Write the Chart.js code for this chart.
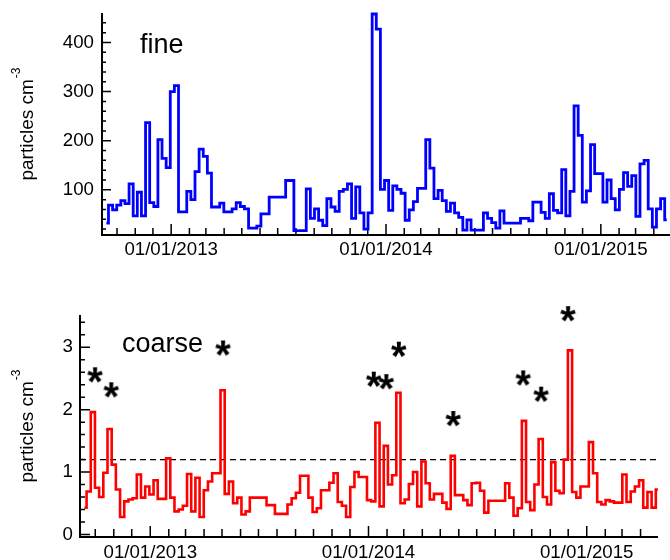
<!DOCTYPE html>
<html>
<head>
<meta charset="utf-8">
<title>Weekly particle number concentrations</title>
<script src="https://cdn.jsdelivr.net/npm/chart.js@4.4.0/dist/chart.umd.min.js"></script>
<style>
  html, body { margin: 0; padding: 0; background: #fff; }
  #wrap { position: relative; width: 670px; height: 560px; overflow: hidden; }
  #fineCanvas { position: absolute; left: 0; top: 0; }
  #coarseCanvas { position: absolute; left: 0; top: 265px; }
</style>
</head>
<body>
<div id="wrap">
  <canvas id="fineCanvas" width="670" height="265"></canvas>
  <canvas id="coarseCanvas" width="670" height="295"></canvas>
</div>
<script>
// Weekly means; x is counted in days from 01/01/2013
const weekStart = -110;
const weekStep = 7;

// fine mode, particles cm-3
const fineValues = [
  32, 69, 59, 69, 78, 72, 112, 47, 95, 47,
  237, 74, 66, 202, 164, 145, 300, 312, 55, 55,
  97, 80, 137, 183, 168, 134, 65, 65, 73, 55,
  55, 61, 74, 66, 61, 22, 22, 26, 51, 51,
  85, 85, 85, 85, 119, 119, 17, 17, 17, 102,
  42, 61, 38, 27, 82, 65, 56, 97, 101, 112,
  42, 106, 53, 20, 53, 458, 427, 101, 119, 58,
  108, 101, 93, 38, 59, 76, 103, 103, 202, 144,
  82, 99, 78, 56, 73, 53, 44, 18, 39, 18,
  18, 18, 53, 42, 33, 22, 57, 32, 32, 32,
  32, 42, 42, 37, 75, 75, 54, 42, 92, 58,
  53, 141, 47, 97, 271, 211, 75, 98, 192, 133,
  133, 75, 120, 82, 59, 101, 135, 107, 129, 46,
  153, 160, 61, 24, 61, 82, 39
];

// coarse mode, particles cm-3
const coarseValues = [
  0.43, 0.69, 1.96, 0.75, 0.60, 0.99, 1.69, 1.12, 0.72, 0.28,
  0.53, 0.56, 0.58, 0.96, 0.59, 0.77, 0.64, 0.87, 0.57, 0.57,
  1.22, 0.59, 0.37, 0.40, 0.46, 0.97, 0.37, 0.91, 0.28, 0.71,
  0.85, 0.98, 0.98, 2.31, 0.65, 0.85, 0.50, 0.59, 0.32, 0.37,
  0.59, 0.59, 0.59, 0.59, 0.47, 0.47, 0.33, 0.33, 0.33, 0.48,
  0.58, 0.67, 0.94, 0.94, 0.59, 0.36, 0.42, 0.71, 0.71, 0.83,
  0.98, 0.52, 0.46, 0.28, 0.76, 1.00, 0.92, 0.92, 0.55, 0.53,
  1.79, 0.45, 1.42, 0.80, 0.95, 2.27, 0.50, 0.56, 0.81, 1.00,
  0.45, 1.17, 0.82, 0.56, 0.65, 0.65, 0.51, 0.41, 1.26, 0.63,
  0.63, 0.55, 0.47, 0.82, 0.83, 0.70, 0.35, 0.54, 0.54, 0.54,
  0.54, 0.82, 0.59, 0.30, 0.42, 1.82, 0.52, 0.39, 0.80, 1.53,
  0.60, 0.48, 1.16, 0.70, 0.66, 1.20, 2.95, 0.68, 0.59, 0.77,
  0.77, 1.48, 0.98, 0.52, 0.48, 0.55, 0.53, 0.51, 0.51, 0.96,
  0.52, 0.69, 0.77, 0.87, 0.43, 0.68, 0.43, 0.72
];

// coarse episodes marked with an asterisk (day, particles cm-3)
const eventDays = [-92, -65, 122, 374, 395, 416, 507, 624, 654, 699];
const eventLevels = [2.55, 2.31, 2.98, 2.48, 2.44, 2.96, 1.85, 2.50, 2.24, 3.53];

const coarseThreshold = 1.2;

// axis labels
const yearTickDays = [0, 365, 730];
const yearTickLabels = ['01/01/2013', '01/01/2014', '01/01/2015'];
const fineYLabels = [100, 200, 300, 400];
const coarseYLabels = [0, 1, 2, 3];

const xMin = -117.5;
const xMax = 847.5;

const FONT = '"Liberation Sans", Arial, Helvetica, sans-serif';
const DAY_MS = 86400000;

// first of every month inside the plotted range
function monthTickDays() {
  const origin = Date.UTC(2013, 0, 1);
  const days = [];
  for (let y = 2012; y <= 2015; y++) {
    for (let m = 0; m < 12; m++) {
      const d = Math.round((Date.UTC(y, m, 1) - origin) / DAY_MS);
      if (d >= xMin && d <= xMax) days.push(d);
    }
  }
  return days;
}

function stepTicks(min, max, step) {
  const out = [];
  const n = Math.floor(max / step + 1e-9);
  for (let i = Math.ceil(min / step - 1e-9); i <= n; i++) {
    out.push(Math.round(i * step * 100) / 100);
  }
  return out;
}

function weekly(values) {
  return values.map((v, i) => ({ x: weekStart + i * weekStep, y: v }));
}

// asterisk glyph rendered once and used as point style
function asteriskMarker() {
  const c = document.createElement('canvas');
  c.width = 26;
  c.height = 26;
  const g = c.getContext('2d');
  g.font = 'bold 40px ' + FONT;
  const m = g.measureText('*');
  const w = m.actualBoundingBoxLeft + m.actualBoundingBoxRight;
  const h = m.actualBoundingBoxAscent + m.actualBoundingBoxDescent;
  g.fillStyle = '#000';
  g.fillText('*', 13 - w / 2 + m.actualBoundingBoxLeft, 13 - h / 2 + m.actualBoundingBoxAscent);
  return c;
}

// inward tick marks, panel name and the rotated unit title
function panelDecor(d) {
  return {
    id: 'panelDecor',
    beforeDatasetsDraw(chart) {
      const ctx = chart.ctx;
      const area = chart.chartArea;
      const xs = chart.scales.x;
      const ys = chart.scales.y;

      ctx.save();
      ctx.strokeStyle = '#000';
      ctx.lineWidth = 1.5;
      ctx.setLineDash([]);
      ctx.beginPath();
      for (const t of xs.ticks) {
        const px = xs.getPixelForValue(t.value);
        const len = yearTickDays.includes(t.value) ? d.xMajor : d.xMinor;
        ctx.moveTo(px, area.bottom);
        ctx.lineTo(px, area.bottom - len);
      }
      for (const t of ys.ticks) {
        const py = ys.getPixelForValue(t.value);
        const len = d.yLabels.includes(t.value) ? d.yMajor : d.yMinor;
        ctx.moveTo(area.left, py);
        ctx.lineTo(area.left + len, py);
      }
      ctx.stroke();

      ctx.fillStyle = '#000';
      ctx.textBaseline = 'alphabetic';
      ctx.textAlign = 'left';
      ctx.font = '27px ' + FONT;
      ctx.fillText(d.name, d.nameX, d.nameY);

      const main = 'particles cm';
      const sup = '-3';
      ctx.font = '19px ' + FONT;
      const wm = ctx.measureText(main).width;
      ctx.font = '12px ' + FONT;
      const ws = ctx.measureText(sup).width;
      const cy = (area.top + area.bottom) / 2;
      ctx.translate(d.titleX, cy + (wm + ws) / 2);
      ctx.rotate(-Math.PI / 2);
      ctx.font = '19px ' + FONT;
      ctx.fillText(main, 0, 0);
      ctx.font = '12px ' + FONT;
      ctx.fillText(sup, wm + 1, -13);
      ctx.restore();
    }
  };
}

function makeChart(canvas, cfg) {
  const months = monthTickDays();
  const tickFont = { family: FONT, size: 18.7 };
  const yTicks = stepTicks(cfg.yMin, cfg.yMax, cfg.yMinorStep);
  return new Chart(canvas, {
    type: 'line',
    data: { datasets: cfg.datasets },
    plugins: [panelDecor(cfg.decor)],
    options: {
      responsive: false,
      animation: false,
      events: [],
      layout: { padding: { top: cfg.padTop, left: 0, right: 0, bottom: 0 } },
      plugins: {
        legend: { display: false },
        tooltip: { enabled: false }
      },
      scales: {
        x: {
          type: 'linear',
          min: xMin,
          max: xMax,
          grid: { display: false, drawTicks: false },
          border: { display: true, color: '#000', width: 2 },
          afterBuildTicks: s => { s.ticks = months.map(v => ({ value: v })); },
          afterFit: s => {
            s.height = cfg.xAxisHeight;
            s.paddingLeft = 0;
            s.paddingRight = 0;
          },
          ticks: {
            autoSkip: false,
            maxRotation: 0,
            padding: cfg.xPad,
            color: '#000',
            font: tickFont,
            // minor (monthly) marks keep an empty label so they stay in the tick list
            callback: v => {
              const i = yearTickDays.indexOf(v);
              return i >= 0 ? yearTickLabels[i] : '';
            }
          }
        },
        y: {
          type: 'linear',
          min: cfg.yMin,
          max: cfg.yMax,
          grid: { display: false, drawTicks: false },
          border: { display: true, color: '#000', width: 2 },
          afterBuildTicks: s => { s.ticks = yTicks.map(v => ({ value: v })); },
          afterFit: s => {
            s.width = cfg.yAxisWidth;
            s.paddingTop = 0;
            s.paddingBottom = 0;
          },
          ticks: {
            autoSkip: false,
            padding: cfg.yPad,
            color: '#000',
            font: tickFont,
            callback: v => (cfg.decor.yLabels.includes(v) ? String(v) : '')
          }
        }
      }
    }
  });
}

document.addEventListener('DOMContentLoaded', function () {
  makeChart(document.getElementById('fineCanvas'), {
    padTop: 14,
    xAxisHeight: 30,
    yAxisWidth: 102,
    xPad: 4,
    yPad: 8,
    yMin: 8,
    yMax: 458,
    yMinorStep: 20,
    decor: {
      name: 'fine', nameX: 140, nameY: 53, titleX: 33,
      yLabels: fineYLabels, xMajor: 11, xMinor: 7, yMajor: 9, yMinor: 4
    },
    datasets: [{
      data: weekly(fineValues),
      stepped: 'middle',
      borderColor: '#0000ff',
      borderWidth: 2.8,
      pointRadius: 0,
      clip: false
    }]
  });

  makeChart(document.getElementById('coarseCanvas'), {
    padTop: 51,
    xAxisHeight: 23,
    yAxisWidth: 80,
    xPad: 5,
    yPad: 7,
    yMin: -0.04,
    yMax: 3.5,
    yMinorStep: 0.2,
    decor: {
      name: 'coarse', nameX: 122, nameY: 87, titleX: 33,
      yLabels: coarseYLabels, xMajor: 11, xMinor: 8, yMajor: 10, yMinor: 5
    },
    datasets: [
      {
        type: 'scatter',
        data: eventDays.map((d, i) => ({ x: d, y: eventLevels[i] })),
        pointStyle: asteriskMarker(),
        pointRadius: 12,
        showLine: false,
        clip: false,
        order: 0
      },
      {
        data: weekly(coarseValues),
        stepped: 'middle',
        borderColor: '#ff0000',
        borderWidth: 2.6,
        pointRadius: 0,
        clip: false,
        order: 1
      },
      {
        data: [{ x: xMin, y: coarseThreshold }, { x: xMax, y: coarseThreshold }],
        borderColor: '#000',
        borderWidth: 1.3,
        borderDash: [6, 4],
        pointRadius: 0,
        order: 2
      }
    ]
  });
});
</script>
</body>
</html>
